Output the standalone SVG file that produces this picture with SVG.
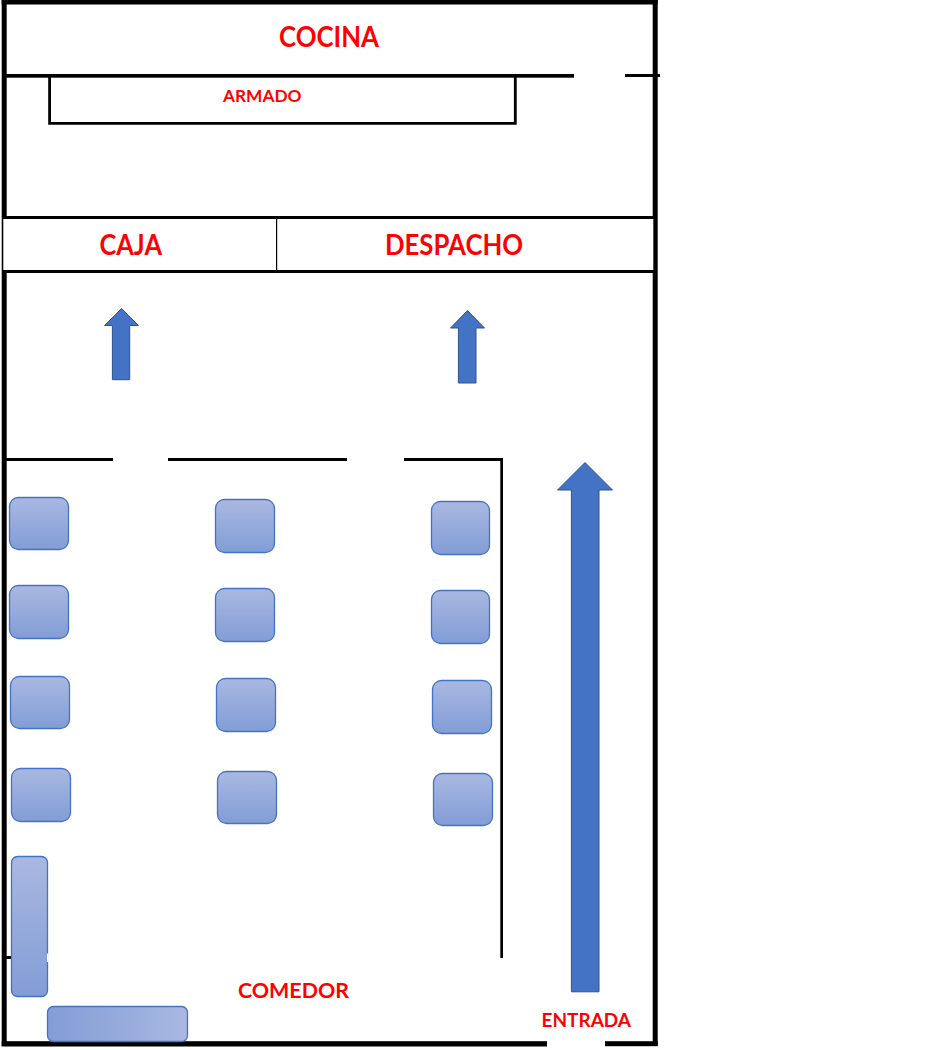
<svg xmlns="http://www.w3.org/2000/svg" width="940" height="1050" viewBox="0 0 940 1050">
<style>
.w{fill:#000}
.t{fill:url(#gv);stroke:#4472c4;stroke-width:1.3}
.a{fill:#4472c4;stroke:#2f528f;stroke-width:1}
text{font-family:Lato,"Open Sans",sans-serif;font-weight:700;fill:#ff0000}
</style>
<defs>
<linearGradient id="gv" x1="0" y1="0" x2="0" y2="1"><stop offset="0" stop-color="#a9b8e1"/><stop offset="1" stop-color="#829dd6"/></linearGradient>
<linearGradient id="gh" x1="0" y1="0" x2="1" y2="0"><stop offset="0" stop-color="#829dd6"/><stop offset="1" stop-color="#a9b8e1"/></linearGradient>
</defs>
<rect width="940" height="1050" fill="#fff"/>
<g id="walls">
<rect class="w" x="1.7" y="0" width="656" height="4.5"/>
<rect class="w" x="1.7" y="0" width="5" height="1046"/>
<rect class="w" x="652.7" y="0" width="5" height="1046"/>
<rect class="w" x="1.7" y="1041.2" width="545.3" height="5.3"/>
<rect class="w" x="605" y="1041.2" width="52.7" height="5"/>
<rect class="w" x="5" y="74" width="569" height="3.7"/>
<rect class="w" x="625" y="74" width="35" height="3"/>
<rect class="w" x="5" y="458" width="108" height="3"/>
<rect class="w" x="168" y="458" width="179" height="3"/>
<rect class="w" x="404" y="458" width="99" height="3"/>
<rect class="w" x="500.3" y="458" width="2.7" height="500"/>
<rect class="w" x="5" y="956" width="8" height="3"/>
</g>
<g id="armado">
<path d="M49.6 76V123.3H515.3V76" fill="none" stroke="#000" stroke-width="2.8"/>
<text x="223" y="101.7" font-size="17" textLength="78.5" lengthAdjust="spacingAndGlyphs">ARMADO</text>
</g>
<g id="cocina">
<text x="279" y="46.7" font-size="28" textLength="100" lengthAdjust="spacingAndGlyphs">COCINA</text>
</g>
<g id="caja">
<rect x="3.3" y="219" width="273" height="51" fill="#fff"/>
<text x="99.5" y="255" font-size="28" textLength="62.5" lengthAdjust="spacingAndGlyphs">CAJA</text>
</g>
<g id="despacho">
<rect x="277" y="219" width="376.3" height="51" fill="#fff"/>
<rect class="w" x="276" y="219" width="1.2" height="51"/>
<text x="385" y="255" font-size="28" textLength="138" lengthAdjust="spacingAndGlyphs">DESPACHO</text>
</g>
<g id="band-lines">
<rect class="w" x="3.3" y="216" width="650" height="3"/>
<rect class="w" x="3.3" y="270" width="650" height="3"/>
</g>
<g id="connectors">
<path class="a" d="M121.6 308.5L138.5 325.5H129.7V379.7H112.4V325.5H104.5Z"/>
<path class="a" d="M467.5 310.5L484.5 328H476V383H458.4V328H450.5Z"/>
<path class="a" d="M585 462.5L612.5 490H599V991.8H571.4V490H557.5Z"/>
</g>
<g id="mesas">
<rect id="mesa-1" class="t" x="9.5" y="497.5" width="59" height="52" rx="9"/>
<rect id="mesa-2" class="t" x="9.5" y="585.5" width="59" height="53" rx="9"/>
<rect id="mesa-3" class="t" x="10.5" y="676.5" width="59" height="52" rx="9"/>
<rect id="mesa-4" class="t" x="11.5" y="768.5" width="59" height="53" rx="9"/>
<rect id="mesa-5" class="t" x="215.5" y="499.5" width="59" height="53" rx="9"/>
<rect id="mesa-6" class="t" x="215.5" y="588.5" width="59" height="53" rx="9"/>
<rect id="mesa-7" class="t" x="216.5" y="678.5" width="59" height="53" rx="9"/>
<rect id="mesa-8" class="t" x="217.5" y="771.5" width="59" height="52" rx="9"/>
<rect id="mesa-9" class="t" x="431.5" y="501.5" width="58" height="53" rx="9"/>
<rect id="mesa-10" class="t" x="431.5" y="590.5" width="58" height="53" rx="9"/>
<rect id="mesa-11" class="t" x="432.5" y="680.5" width="59" height="53" rx="9"/>
<rect id="mesa-12" class="t" x="433.5" y="773.5" width="59" height="52" rx="9"/>
<rect id="barra-v" class="t" x="11.5" y="856.5" width="36" height="140" rx="6"/>
<rect x="47" y="953.5" width="1.5" height="8.5" fill="#fff"/>
<rect id="barra-h" x="47.5" y="1006.5" width="140" height="35" rx="6" fill="url(#gh)" stroke="#4472c4" stroke-width="1.3"/>
</g>
<g id="comedor">
<text x="238" y="997.7" font-size="21" textLength="111" lengthAdjust="spacingAndGlyphs">COMEDOR</text>
</g>
<g id="entrada">
<text x="541.5" y="1026.7" font-size="18.7" textLength="89.5" lengthAdjust="spacingAndGlyphs">ENTRADA</text>
</g>
</svg>
